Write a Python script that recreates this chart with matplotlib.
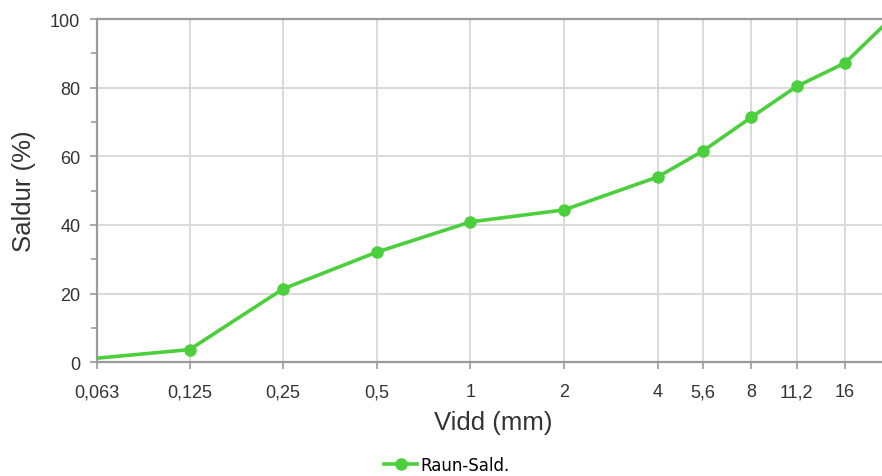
import numpy as np
import matplotlib as mpl
mpl.use('agg')
import matplotlib.pyplot as plt
from matplotlib.ticker import FixedLocator, FixedFormatter, MultipleLocator

# sieve sizes (mm) and passing percentage
vidd = [0.063, 0.125, 0.25, 0.5, 1, 2, 4, 5.6, 8, 11.2, 16, 22.4]
saldur = [1.2, 3.7, 21.4, 32.1, 40.9, 44.4, 54.0, 61.6, 71.4, 80.4, 87.2, 100]
tick_vals = [0.063, 0.125, 0.25, 0.5, 1, 2, 4, 5.6, 8, 11.2, 16]
tick_labels = ["0,063", "0,125", "0,25", "0,5", "1", "2", "4", "5,6", "8", "11,2", "16"]

plt.rcParams['font.family'] = ['Liberation Sans', 'DejaVu Sans']
green = '#4ccf3c'

fig = plt.figure(figsize=(8.82, 4.77), dpi=100)
W, H = 882.0, 477.0
ax = fig.add_axes([97 / W, (H - 363.3) / H, (890.5 - 97) / W, 343.3 / H])

# first point sits on the axis edge, no marker drawn there
ax.plot(vidd, saldur, color=green, lw=2.6, marker='o', ms=8,
        markevery=slice(1, None), label='Raun-Sald.', zorder=3)

ax.set_xscale('log')
ax.set_xlim(0.063, 22.4)
ax.set_ylim(0, 100)
ax.xaxis.set_major_locator(FixedLocator(tick_vals))
ax.xaxis.set_major_formatter(FixedFormatter(tick_labels))
ax.xaxis.set_minor_locator(FixedLocator([]))
ax.yaxis.set_major_locator(MultipleLocator(20))
ax.yaxis.set_minor_locator(MultipleLocator(10))

ax.grid(True, which='major', color='#d9d9d9', lw=1.4)
ax.set_axisbelow(True)
for s in ['left', 'bottom', 'top']:
    ax.spines[s].set_color('#9a9a9a')
    ax.spines[s].set_linewidth(1.6)
ax.spines['right'].set_visible(False)

ax.tick_params(axis='both', which='major', length=5, width=1.2, color='#9a9a9a',
               labelsize=13, labelcolor='#333333', pad=7)
# baseline-aligned x labels so the commas don't push some labels down
ax.tick_params(axis='x', which='major', pad=19.5)
for lbl in ax.get_xticklabels():
    lbl.set_verticalalignment('baseline')
ax.tick_params(axis='y', which='minor', length=4, width=1.2, color='#9a9a9a')

ax.set_xlabel('Vidd (mm)', fontsize=18.5, color='#333333', labelpad=7)
ax.set_ylabel('Saldur (%)', fontsize=18.5, color='#333333', labelpad=10)

fig.legend(loc='center', bbox_to_anchor=(447 / W, 1 - 466 / H), frameon=False,
           handlelength=2.0, handletextpad=0.2,
           prop={'family': 'DejaVu Sans', 'size': 12})

fig.savefig('out.png', dpi=100)
